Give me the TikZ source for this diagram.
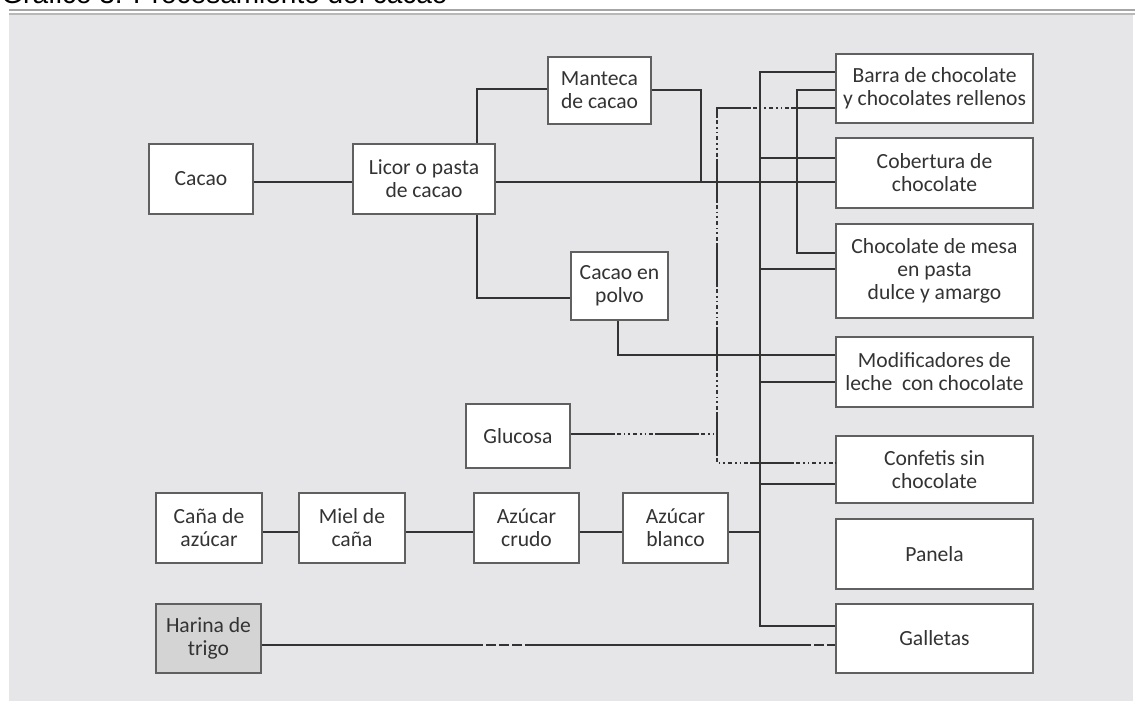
\documentclass[tikz,border=0pt]{standalone}
\usepackage{fontspec}
\setmainfont{Carlito}
\newfontfamily\titlefont{Liberation Sans}
\definecolor{panel}{HTML}{E6E6E8}
\definecolor{ruleA}{HTML}{A6A6A6}
\definecolor{ruleB}{HTML}{B8B8B8}
\definecolor{ink}{HTML}{333333}
\definecolor{frame}{HTML}{606060}
\definecolor{flour}{HTML}{D4D4D4}
\tikzset{
  box/.style={draw=frame, line width=0.8pt, fill=white, inner sep=0pt,
    align=center, text=ink, font=\fontsize{10.8}{11.5}\selectfont},
  conn/.style={draw=ink, line width=0.65pt},
  dotdash/.style={conn, dash pattern=on 22pt off 1pt on 2pt off 1.5pt on 0.8pt off 1.5pt on 0.8pt off 1.5pt on 2pt off 1.5pt on 0.8pt off 1.5pt on 0.8pt off 1.5pt on 2pt off 1pt},
  shortdash/.style={conn, dash pattern=on 5pt off 1.5pt}
}
\begin{document}
\begin{tikzpicture}[x=0.5pt,y=-0.5pt]
\useasboundingbox (0,0) rectangle (1135,701);
\begin{scope}
\clip (0,0) rectangle (1135,701);
% heading, only its lower edge is inside the page
\node[anchor=base west, inner sep=0pt, text=black, font=\titlefont\fontsize{14}{16}\selectfont] (title) at (1,3.5) {Gráfico 3: Procesamiento del cacao};
% panel and double rule
\fill[ruleA] (9,9) rectangle (1135,10.6);
\fill[ruleB] (9,13) rectangle (1135,14.8);
\fill[panel] (9,14.8) rectangle (1133,701);
\end{scope}

% cacao branch
\node[box, minimum width=52pt, minimum height=35pt] (cacao) at (201,179) {Cacao};
\node[box, minimum width=71pt, minimum height=35pt] (licor) at (424,179) {Licor o pasta\\de cacao};
\node[box, minimum width=51.5pt, minimum height=33.5pt] (manteca) at (599.5,90.5) {Manteca\\de cacao};
\node[box, minimum width=48.5pt, minimum height=34pt] (polvo) at (619.5,286) {Cacao en\\polvo};
\node[box, minimum width=52pt, minimum height=32pt] (glucosa) at (518,436) {Glucosa};

% sugar branch
\node[box, minimum width=53pt, minimum height=35pt] (cana) at (209,528) {Caña de\\azúcar};
\node[box, minimum width=53pt, minimum height=35pt] (miel) at (352,528) {Miel de\\caña};
\node[box, minimum width=52.5pt, minimum height=35pt] (crudo) at (526.5,528) {Azúcar\\crudo};
\node[box, minimum width=52.5pt, minimum height=35pt] (blanco) at (675.5,528) {Azúcar\\blanco};
\node[box, fill=flour, minimum width=52.5pt, minimum height=34.5pt] (harina) at (208.5,638.5) {Harina de\\trigo};

% products
\node[box, minimum width=98.5pt, minimum height=34.5pt] (barra) at (934.5,88.5) {Barra de chocolate\\y chocolates rellenos};
\node[box, minimum width=98.5pt, minimum height=35pt] (cobertura) at (934.5,173) {Cobertura de\\chocolate};
\node[box, minimum width=98.5pt, minimum height=47pt] (mesa) at (934.5,271) {Chocolate de mesa\\en pasta\\dulce y amargo};
\node[box, minimum width=98.5pt, minimum height=35pt] (modif) at (934.5,372) {Modificadores de\\leche\ \ con chocolate};
\node[box, minimum width=98.5pt, minimum height=33.5pt] (confetis) at (934.5,469.5) {Confetis sin\\chocolate};
\node[box, minimum width=98.5pt, minimum height=35pt] (panela) at (934.5,554) {Panela};
\node[box, minimum width=98.5pt, minimum height=34.5pt] (galletas) at (934.5,638.5) {Galletas};

% junction points
\coordinate (busT) at (760,72);
\coordinate (busB) at (760,626);
\coordinate (mantD) at (701,182);
\coordinate (glcJ) at (717,434);
\coordinate (harA) at (473,645);
\coordinate (harB) at (527,645);
\coordinate (harC) at (801,645);

% cacao connectors
\draw[conn] (cacao.east |- 0,182) -- (licor.west |- 0,182);
\draw[conn] (licor.east |- 0,182) -- (cobertura.west |- 0,182);
\draw[conn] (licor.north -| 477,0) |- (manteca.west |- 0,89);
\draw[conn] (licor.south -| 477,0) |- (polvo.west |- 0,298);
\draw[conn] (manteca.east |- 0,90) -| (mantD);
\draw[conn] (polvo.south -| 618,0) |- (modif.west |- 0,355);
\draw[conn] (barra.west |- 0,90) -| (797,253) -- (mesa.west |- 0,253);

% main collector
\draw[conn] (barra.west |- busT) -- (busT) -- (busB) -- (galletas.west |- busB);
\draw[conn] (busT |- 0,158) -- (cobertura.west |- 0,158);
\draw[conn] (busT |- 0,269) -- (mesa.west |- 0,269);
\draw[conn] (busT |- 0,382) -- (modif.west |- 0,382);
\draw[conn] (busT |- 0,484) -- (confetis.west |- 0,484);

% glucose
\draw[dotdash] (barra.west |- 0,108) -| (717,463) -- (confetis.west |- 0,463);
\draw[dotdash] (glucosa.east |- glcJ) -- (glcJ);

% sugar chain
\draw[conn] (cana.east |- 0,532) -- (miel.west |- 0,532);
\draw[conn] (miel.east |- 0,532) -- (crudo.west |- 0,532);
\draw[conn] (crudo.east |- 0,532) -- (blanco.west |- 0,532);
\draw[conn] (blanco.east |- 0,532) -- (busT |- 0,532);

% flour
\draw[conn] (harina.east |- harA) -- (harA);
\draw[shortdash] (harA) -- (harB);
\draw[conn] (harB) -- (harC);
\draw[shortdash] (harC) -- (galletas.west |- harC);
\end{tikzpicture}
\end{document}
